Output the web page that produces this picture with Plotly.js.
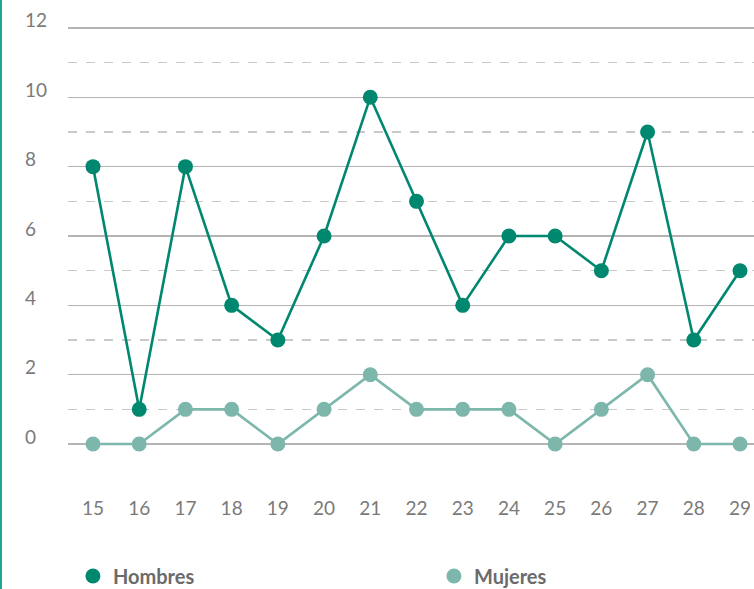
<!DOCTYPE html>
<html>
<head>
<meta charset="utf-8">
<script src="https://cdn.plot.ly/plotly-3.0.1.min.js"></script>
<style>html,body{margin:0;padding:0;background:#fff;}#chart{width:754px;height:589px;}</style>
</head>
<body>
<div id="chart"></div>
<script>
var ages = [15, 16, 17, 18, 19, 20, 21, 22, 23, 24, 25, 26, 27, 28, 29];
var hombres = [8, 1, 8, 4, 3, 6, 10, 7, 4, 6, 6, 5, 9, 3, 5];
var mujeres = [0, 0, 1, 1, 0, 1, 2, 1, 1, 1, 0, 1, 2, 0, 0];
var yMajorTicks = [0, 2, 4, 6, 8, 10, 12];
var yMinorTicks = [1, 3, 5, 7, 9, 11];
var seriesNames = ['Hombres', 'Mujeres'];

var cH = '#00876f', cM = '#7db6ab';
var fontFam = 'Lato, "Open Sans", sans-serif';

var traces = [
  {x: ages, y: mujeres, mode: 'lines+markers', name: seriesNames[1], showlegend: false,
   line: {color: cM, width: 2.6}, marker: {color: cM, size: 15}},
  {x: ages, y: hombres, mode: 'lines+markers', name: seriesNames[0], showlegend: false,
   line: {color: cH, width: 2.6}, marker: {color: cH, size: 15}},
  {x: [null], y: [null], mode: 'markers', name: seriesNames[0], marker: {color: cH, size: 15}},
  {x: [null], y: [null], mode: 'markers', name: seriesNames[1], marker: {color: cM, size: 15}}
];

var annotations = yMajorTicks.map(function (v) {
  return {xref: 'paper', yref: 'y', x: -0.0656, y: v, xanchor: 'left', yanchor: 'middle',
    yshift: 8, text: String(v), showarrow: false, font: {family: fontFam, size: 19, color: '#7a7a7a'}};
});

var layout = {
  width: 754, height: 589,
  margin: {l: 68, r: 0, t: 20, b: 94, autoexpand: false},
  paper_bgcolor: '#fff', plot_bgcolor: '#fff',
  font: {family: fontFam, color: '#7a7a7a'},
  xaxis: {range: [14.459, 29.303], tickvals: ages, ticktext: ages.map(String),
    showgrid: false, zeroline: false, showline: false, ticks: '',
    tickfont: {family: fontFam, size: 19, color: '#7a7a7a'}, fixedrange: true},
  yaxis: {range: [-1.47, 12.23], tickvals: yMajorTicks, showticklabels: false,
    showgrid: true, gridcolor: '#b4b4b4', gridwidth: 1.3, zeroline: false, showline: false, ticks: '',
    minor: {tickvals: yMinorTicks, showgrid: true, griddash: 'dash', gridcolor: '#c9c9c9', gridwidth: 1.3, ticks: ''},
    fixedrange: true},
  showlegend: true,
  legend: {orientation: 'h', x: -0.0001, y: -0.1705, xanchor: 'left', yanchor: 'middle',
    entrywidth: 316, font: {family: fontFam, size: 20, color: '#6b6b6b', weight: 'bold'},
    bgcolor: 'rgba(0,0,0,0)', borderwidth: 5, bordercolor: 'rgba(0,0,0,0)'},
  annotations: annotations,
  shapes: [{type: 'line', xref: 'paper', yref: 'paper', x0: -0.0977, x1: -0.0977, y0: -0.3, y1: 1.1,
    line: {color: '#1fa393', width: 2}}]
};

Plotly.newPlot('chart', traces, layout, {displayModeBar: false, staticPlot: true});
</script>
</body>
</html>
